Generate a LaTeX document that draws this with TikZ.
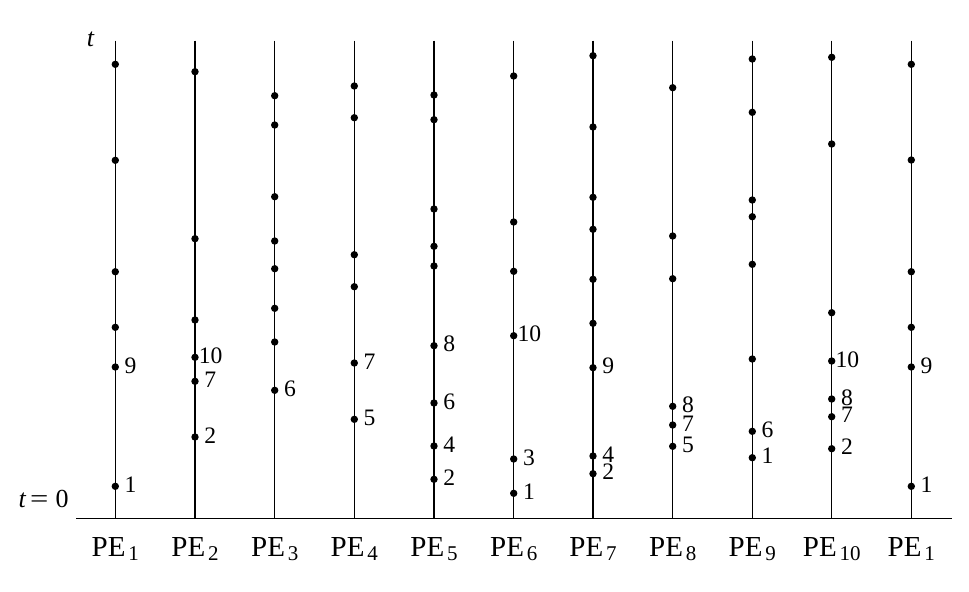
\documentclass[tikz,border=0pt]{standalone}
\usepackage{fontspec}
\setmainfont{Liberation Serif}
\usepackage{graphicx}
\tikzset{
  peline/.style={line width=0.55pt},
  axisline/.style={line width=0.7pt},
  event/.style={circle,fill=black,draw=none,inner sep=0pt,minimum size=3.7pt},
  evlabel/.style={anchor=base west,inner sep=0pt,font=\fontsize{11.8}{12}\selectfont},
  pelabel/.style={anchor=base,inner sep=0pt,font=\fontsize{14.5}{15}\selectfont},
  axislabel/.style={inner sep=0pt,font=\fontsize{13}{14}\selectfont},
}
\begin{document}
\begin{tikzpicture}[x=0.5pt,y=-0.5pt]
\useasboundingbox (0,0) rectangle (969,591);
% axis
\coordinate (axisL) at (76,518.3);
\coordinate (axisR) at (951.7,518.3);
\draw[axisline] (axisL) -- (axisR);
% process lines and labels
\foreach \i/\x/\s in {1/115.3/1,2/195/2,3/274.7/3,4/354.3/4,5/434/5,6/513.7/6,7/593/7,8/672.7/8,9/752.3/9,10/831.7/10,11/911.3/1}{
  \coordinate (top\i) at (\x,40.7);
  \coordinate (bot\i) at (\x,518.3);
  \draw[peline] (top\i) -- (bot\i);
  \node[pelabel] (pe\i) at (\x,556.7) {PE\hspace{1.4pt}\raisebox{-2pt}{\fontsize{10.5}{11}\selectfont \s}};
}
% events
\foreach \i/\x/\ys in {
  1/115.3/{64.3,160.3,271.7,327.3,367,486.3},
  2/195/{71.7,238.7,320,357.3,381.3,437},
  3/274.7/{95.7,125,196.7,241,268.7,308.3,342,390.3},
  4/354.3/{86,117.7,254.7,286.7,363,419.3},
  5/434/{95,119.7,209,246.3,266,345.7,403,446,479.3},
  6/513.7/{76,222,271.3,335.7,459,493.3},
  7/593/{55.7,127,197.3,229.3,279.3,323.3,367.7,456,473.7},
  8/672.7/{87.7,236,278.7,406.3,425,446.3},
  9/752.3/{59,112.3,200,216.7,264.3,359,431.3,457.7},
  10/831.7/{57.3,144,312.7,361,399,416.7,448.7},
  11/911.3/{64.3,160,271.7,327.3,367,486.3}}{
  \foreach \y [count=\j] in \ys {
    \node[event] (d\i-\j) at (\x,\y) {};
  }
}
% event labels
\foreach \i/\x/\y/\t/\o in {
  1/115.3/367/9/9, 1/115.3/486.3/1/9,
  2/195/357.3/10/3.5, 2/195/381.3/7/9, 2/195/437/2/9,
  3/274.7/390.3/6/9,
  4/354.3/363/7/9, 4/354.3/419.3/5/9,
  5/434/345.7/8/9, 5/434/403/6/9, 5/434/446/4/9, 5/434/479.3/2/9,
  6/513.7/335.7/10/3.5, 6/513.7/459/3/9, 6/513.7/493.3/1/9,
  7/593/367.7/9/9, 7/593/456/4/9, 7/593/473.7/2/9,
  8/672.7/406.3/8/9, 8/672.7/425/7/9, 8/672.7/446.3/5/9,
  9/752.3/431.3/6/9, 9/752.3/457.7/1/9,
  10/831.7/361/10/3.5, 10/831.7/399/8/9, 10/831.7/416.7/7/9, 10/831.7/448.7/2/9,
  11/911.3/367/9/9, 11/911.3/486.3/1/9}{
  \node[evlabel] (l\i-\t) at (\x+\o,\y+6) {\t};
}
% axis labels
\node[axislabel,anchor=base west] (tlab) at (86.5,46) {\itshape t};
\node[axislabel,anchor=base east] (t0lab) at (69,507.7) {\textit{t}\hspace{1.8pt}\scalebox{1.25}[1]{=}\hspace{3.6pt}0};
\end{tikzpicture}
\end{document}
